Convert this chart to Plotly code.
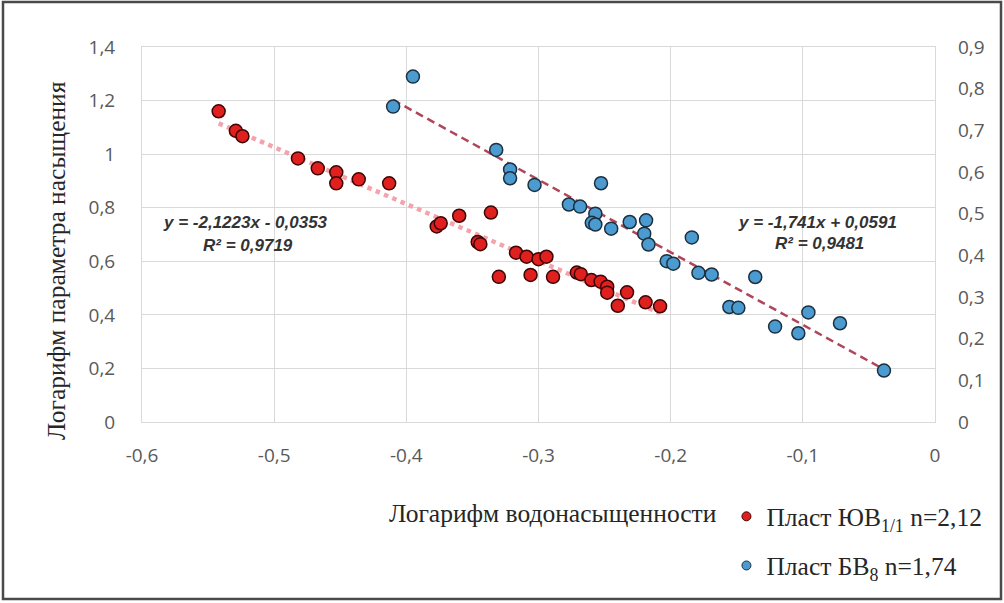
import plotly.graph_objects as go
import numpy as np

# ---- data ----
red_x = [-0.542, -0.529, -0.524, -0.482, -0.467, -0.453, -0.453, -0.436, -0.413,
         -0.377, -0.374, -0.360, -0.336, -0.346, -0.344, -0.317, -0.309, -0.300,
         -0.294, -0.330, -0.306, -0.289, -0.271, -0.268, -0.260, -0.253, -0.248,
         -0.248, -0.233, -0.240, -0.219, -0.208]
red_y = [1.160, 1.087, 1.067, 0.984, 0.947, 0.932, 0.891, 0.906, 0.891,
         0.730, 0.742, 0.770, 0.782, 0.672, 0.664, 0.632, 0.617, 0.608,
         0.617, 0.542, 0.549, 0.542, 0.558, 0.552, 0.530, 0.524, 0.505,
         0.483, 0.484, 0.434, 0.447, 0.432]

blue_x = [-0.410, -0.395, -0.332, -0.3215, -0.3215, -0.303, -0.277, -0.2685, -0.2527,
          -0.257, -0.2597, -0.257, -0.245, -0.231, -0.2186, -0.220, -0.2168, -0.184,
          -0.203, -0.198, -0.179, -0.169, -0.136, -0.1556, -0.1488, -0.121, -0.1034,
          -0.0958, -0.0719, -0.0386]
blue_y = [0.757, 0.829, 0.653, 0.606, 0.585, 0.569, 0.522, 0.517, 0.573,
          0.500, 0.478, 0.474, 0.464, 0.480, 0.484, 0.452, 0.426, 0.443,
          0.386, 0.380, 0.358, 0.354, 0.348, 0.276, 0.274, 0.229, 0.213,
          0.263, 0.237, 0.1235]

red_fit = (-2.1223, -0.0353)
blue_fit = (-1.741, 0.0591)

red_name = "Пласт ЮВ<sub>1/1</sub> n=2,12"
blue_name = "Пласт БВ<sub>8</sub> n=1,74"
red_eq = ["y = -2,1223x - 0,0353", "R² = 0,9719"]
blue_eq = ["y = -1,741x + 0,0591", "R² = 0,9481"]

x_ticks = [-0.6, -0.5, -0.4, -0.3, -0.2, -0.1, 0.0]
x_tick_labels = ["-0,6", "-0,5", "-0,4", "-0,3", "-0,2", "-0,1", "0"]
y_ticks = [0, 0.2, 0.4, 0.6, 0.8, 1.0, 1.2, 1.4]
y_tick_labels = ["0", "0,2", "0,4", "0,6", "0,8", "1", "1,2", "1,4"]
y2_ticks = [0, 0.1, 0.2, 0.3, 0.4, 0.5, 0.6, 0.7, 0.8, 0.9]
y2_tick_labels = ["0", "0,1", "0,2", "0,3", "0,4", "0,5", "0,6", "0,7", "0,8", "0,9"]

x_title = "Логарифм водонасыщенности"
y_title = "Логарифм параметра насыщения"

RED = "#e0201f"
RED_EDGE = "#3d0505"
BLUE = "#4b9bd0"
BLUE_EDGE = "#1c3040"
GRID = "#d9d9d9"
TICKFONT = dict(family="Open Sans", size=19, color="#595959")
SERIF = "Liberation Serif"
SERIF_SIZE = 25.5

fig = go.Figure()

# trend lines (from the stated fit coefficients, over the data range)
rx = np.array([min(red_x), max(red_x)])
fig.add_trace(go.Scatter(x=rx, y=red_fit[0] * rx + red_fit[1], mode="lines",
                         line=dict(color="#f4a3ab", width=4.5, dash="dot"),
                         showlegend=False, hoverinfo="skip"))
bx = np.array([min(blue_x), max(blue_x)])
fig.add_trace(go.Scatter(x=bx, y=blue_fit[0] * bx + blue_fit[1], mode="lines",
                         yaxis="y2",
                         line=dict(color="#b0455a", width=2.5, dash="8px,5px"),
                         showlegend=False, hoverinfo="skip"))

# data points
fig.add_trace(go.Scatter(x=red_x, y=red_y, mode="markers", showlegend=False,
                         marker=dict(size=13, color=RED, line=dict(color=RED_EDGE, width=1.5))))
fig.add_trace(go.Scatter(x=blue_x, y=blue_y, mode="markers", yaxis="y2", showlegend=False,
                         marker=dict(size=13, color=BLUE, line=dict(color=BLUE_EDGE, width=1.5))))

# legend entries (smaller markers, as in the reference)
fig.add_trace(go.Scatter(x=[None], y=[None], mode="markers", name=red_name, legendgroup="a",
                         marker=dict(size=9, color=RED, line=dict(color=RED_EDGE, width=1))))
fig.add_trace(go.Scatter(x=[None], y=[None], mode="markers", name=blue_name, legendgroup="b",
                         marker=dict(size=9, color=BLUE, line=dict(color=BLUE_EDGE, width=1))))

eqfont = dict(family="Liberation Sans", size=17, color="#333333")


def ann(x, y, text, **kw):
    d = dict(x=x, y=y, xref="paper", yref="paper", text=text, showarrow=False,
             xanchor="center", yanchor="middle")
    d.update(kw)
    return d


annotations = [
    ann(0.131, 0.533, "<b><i>%s</i></b>" % red_eq[0], font=eqfont),
    ann(0.134, 0.472, "<b><i>%s</i></b>" % red_eq[1], font=eqfont),
    ann(0.852, 0.531, "<b><i>%s</i></b>" % blue_eq[0], font=eqfont),
    ann(0.854, 0.477, "<b><i>%s</i></b>" % blue_eq[1], font=eqfont),
    ann(-0.107, 0.43, y_title, textangle=-90,
        font=dict(family=SERIF, size=SERIF_SIZE, color="#262626")),
    ann(0.518, -0.243, x_title,
        font=dict(family=SERIF, size=SERIF_SIZE, color="#262626")),
]

fig.update_layout(
    width=1004, height=603,
    margin=dict(l=142, r=69, t=47, b=181, autoexpand=False),
    paper_bgcolor="white", plot_bgcolor="white",
    separators=", ",
    xaxis=dict(range=[-0.6, 0], tickvals=x_ticks, ticktext=x_tick_labels,
               showgrid=True, gridcolor=GRID, gridwidth=1, zeroline=False,
               showline=True, linecolor=GRID, mirror=True, ticks="",
               tickfont=TICKFONT, ticklabelstandoff=16),
    yaxis=dict(range=[0, 1.4], tickvals=y_ticks, ticktext=y_tick_labels,
               showgrid=True, gridcolor=GRID, gridwidth=1, zeroline=False,
               showline=True, linecolor=GRID, mirror=True, ticks="",
               tickfont=TICKFONT, ticklabelstandoff=22),
    yaxis2=dict(range=[0, 0.9], tickvals=y2_ticks, ticktext=y2_tick_labels,
                overlaying="y", side="right", showgrid=False, zeroline=False,
                showline=False, ticks="", tickfont=TICKFONT, ticklabelstandoff=22),
    legend=dict(x=0.737, y=-0.19, xanchor="left", yanchor="top",
                font=dict(family=SERIF, size=SERIF_SIZE, color="#262626"),
                tracegroupgap=13, bgcolor="rgba(0,0,0,0)"),
    annotations=annotations,
    shapes=[dict(type="rect", xref="paper", yref="paper",
                 x0=(3 - 142) / 793, x1=(1001 - 142) / 793,
                 y0=(422 - 599) / 375, y1=(422 - 2) / 375,
                 line=dict(color="#4a4a4a", width=2.5))],
)

fig.write_html("out.html", config={"displayModeBar": False},
               post_script="document.body.style.margin='0';")
